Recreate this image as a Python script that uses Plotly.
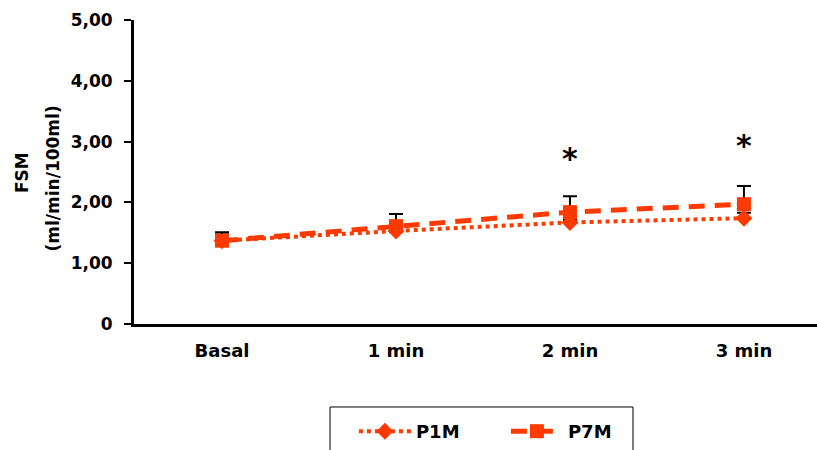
import plotly.graph_objects as go

categories = ["Basal", "1 min", "2 min", "3 min"]
p1m = [1.37, 1.53, 1.67, 1.74]
p1m_err = [0.10, 0.10, 0.04, 0.09]
p7m = [1.37, 1.61, 1.84, 1.97]
p7m_err = [0.14, 0.20, 0.26, 0.30]
y_ticks = [0, 1, 2, 3, 4, 5]
y_tick_labels = ["0", "1,00", "2,00", "3,00", "4,00", "5,00"]
star_cats = [2, 3]
star_y = [2.72, 2.94]

color = "#FF3A00"
font = "DejaVu Sans, sans-serif"
xs = list(range(len(categories)))

fig = go.Figure()
fig.add_trace(go.Scatter(
    x=xs, y=p1m, name="<b>P1M</b>", mode="lines+markers",
    line=dict(color=color, width=4, dash="dot"),
    marker=dict(symbol="diamond", size=13, color=color),
    error_y=dict(type="data", array=p1m_err, arrayminus=[0]*4, color="black", thickness=2, width=7),
))
fig.add_trace(go.Scatter(
    x=xs, y=p7m, name="<b>P7M</b>", mode="lines+markers",
    line=dict(color=color, width=5, dash="16px,10px"),
    marker=dict(symbol="square", size=14, color=color),
    error_y=dict(type="data", array=p7m_err, arrayminus=[0]*4, color="black", thickness=2, width=7),
))

for cx, sy in zip(star_cats, star_y):
    fig.add_annotation(x=cx, y=sy, text="<b>*</b>", showarrow=False,
                       font=dict(family=font, size=30, color="black"))

# y-axis title (two lines)
fig.add_annotation(xref="paper", yref="paper", x=-0.164, y=0.5, xanchor="center", yanchor="middle",
                   text="<b>FSM</b>", textangle=-90, showarrow=False,
                   font=dict(family=font, size=17, color="black"))
fig.add_annotation(xref="paper", yref="paper", x=-0.118, y=0.48, xanchor="center", yanchor="middle",
                   text="<b>(ml/min/100ml)</b>", textangle=-90, showarrow=False,
                   font=dict(family=font, size=17, color="black"))

# legend frame
fig.add_shape(type="rect", xref="paper", yref="paper", x0=0.287, x1=0.7306, y0=-0.273, y1=-0.47,
              line=dict(color="black", width=1), fillcolor="rgba(0,0,0,0)", layer="below")

fig.update_layout(
    width=817, height=450,
    margin=dict(l=134, r=0, t=20, b=126),
    plot_bgcolor="white", paper_bgcolor="white",
    font=dict(family=font, size=17, color="black"),
    showlegend=True,
    legend=dict(orientation="h", x=0.322, y=-0.293, xanchor="left", yanchor="top",
                borderwidth=0, bgcolor="rgba(0,0,0,0)",
                font=dict(family=font, size=18, color="black"),
                entrywidth=85, itemwidth=52),
    xaxis=dict(range=[-0.506, 3.42], tickvals=xs, ticktext=["<b>%s</b>" % c for c in categories],
               showline=True, linecolor="black", linewidth=3, showgrid=False, zeroline=False,
               ticks="", ticklabelstandoff=8, automargin=False,
               tickfont=dict(family=font, size=18, color="black")),
    yaxis=dict(range=[0, 5], tickvals=y_ticks, ticktext=["<b>%s</b>" % t for t in y_tick_labels],
               showline=True, linecolor="black", linewidth=3, showgrid=False, zeroline=False,
               ticks="outside", ticklen=7, tickwidth=2, tickcolor="black", automargin=False,
               ticklabelstandoff=8,
               tickfont=dict(family=font, size=17, color="black")),
)

fig.write_html("out.html", config={"displayModeBar": False},
               post_script="document.body.style.margin='0';")
